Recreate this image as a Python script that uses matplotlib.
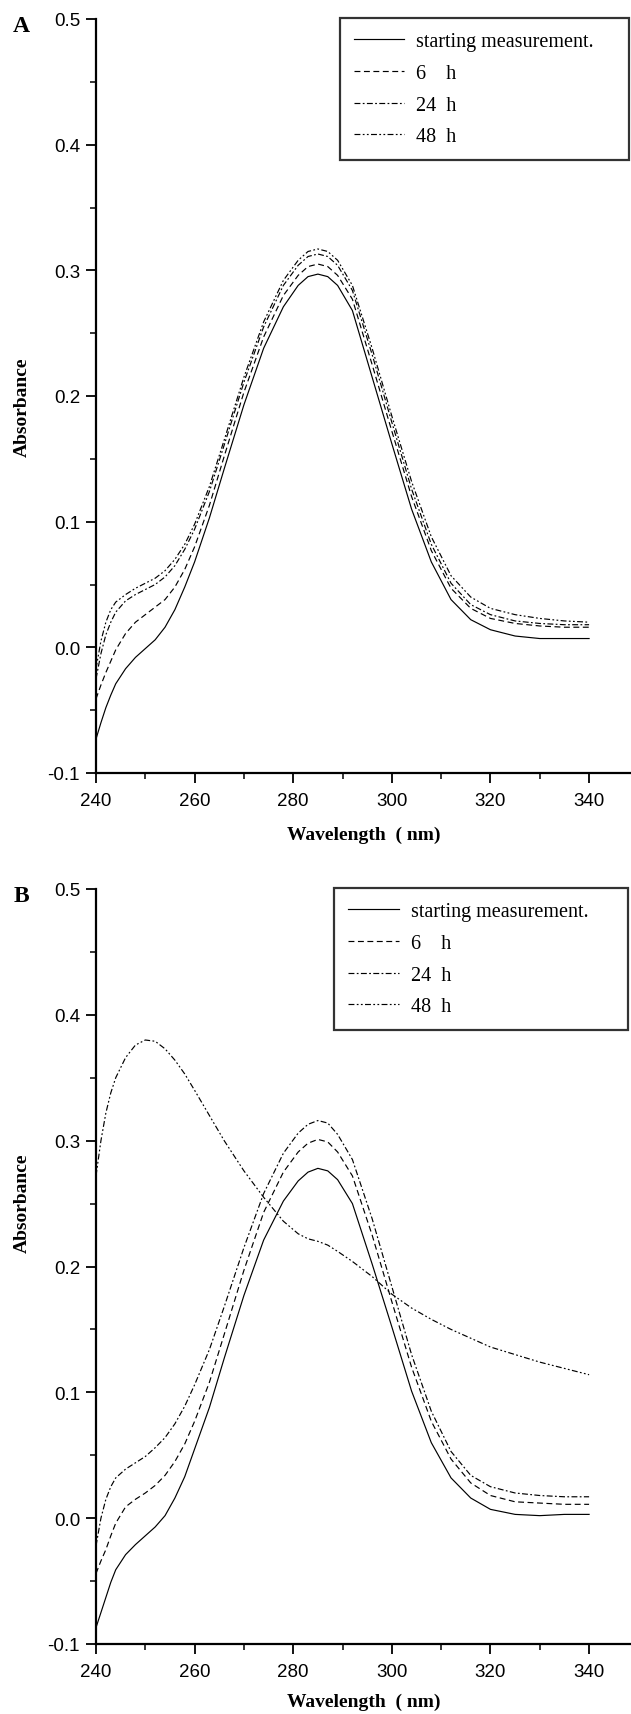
import matplotlib
matplotlib.use('Agg')
import matplotlib.pyplot as plt
from matplotlib.ticker import MultipleLocator, FormatStrFormatter
import numpy as np

plt.rcParams['axes.unicode_minus'] = False

# wavelength grid (nm)
wl = [240, 241, 242, 243, 244, 246, 248, 250, 252, 254, 256, 258, 260, 263, 266,
      270, 274, 278, 281, 283, 285, 287, 289, 292, 296, 300, 304, 308, 312, 316,
      320, 325, 330, 335, 340]

# panel A
a_start = [-0.073, -0.060, -0.048, -0.038, -0.029, -0.017, -0.008, -0.001, 0.006, 0.016,
           0.030, 0.048, 0.068, 0.103, 0.142, 0.193, 0.238, 0.271, 0.288, 0.295,
           0.297, 0.295, 0.288, 0.268, 0.215, 0.162, 0.110, 0.068, 0.038, 0.022,
           0.014, 0.009, 0.007, 0.007, 0.007]
a_6h = [-0.041, -0.030, -0.020, -0.011, -0.002, 0.011, 0.020, 0.026, 0.032, 0.038,
        0.048, 0.062, 0.080, 0.113, 0.152, 0.203, 0.247, 0.280, 0.296, 0.303,
        0.305, 0.303, 0.296, 0.277, 0.225, 0.172, 0.120, 0.077, 0.047, 0.031,
        0.023, 0.019, 0.017, 0.016, 0.016]
a_24h = [-0.025, -0.005, 0.010, 0.020, 0.028, 0.037, 0.042, 0.046, 0.050, 0.056,
         0.065, 0.078, 0.094, 0.124, 0.161, 0.211, 0.255, 0.288, 0.304, 0.311,
         0.313, 0.311, 0.304, 0.284, 0.233, 0.179, 0.126, 0.082, 0.051, 0.034,
         0.026, 0.021, 0.019, 0.018, 0.018]
a_48h = [-0.017, 0.005, 0.020, 0.030, 0.036, 0.042, 0.047, 0.051, 0.055, 0.061,
         0.070, 0.082, 0.098, 0.128, 0.165, 0.215, 0.259, 0.292, 0.308, 0.315,
         0.317, 0.315, 0.308, 0.288, 0.238, 0.184, 0.132, 0.088, 0.057, 0.040,
         0.031, 0.026, 0.023, 0.021, 0.020]

# panel B
b_start = [-0.087, -0.075, -0.063, -0.051, -0.041, -0.029, -0.021, -0.014, -0.007, 0.002,
           0.016, 0.033, 0.055, 0.088, 0.127, 0.177, 0.221, 0.252, 0.268, 0.275,
           0.278, 0.276, 0.269, 0.250, 0.202, 0.152, 0.101, 0.060, 0.032, 0.016,
           0.007, 0.003, 0.002, 0.003, 0.003]
b_6h = [-0.044, -0.034, -0.025, -0.014, -0.004, 0.009, 0.015, 0.020, 0.026, 0.034,
        0.045, 0.059, 0.077, 0.108, 0.146, 0.197, 0.243, 0.275, 0.291, 0.298,
        0.301, 0.299, 0.291, 0.272, 0.225, 0.172, 0.120, 0.077, 0.047, 0.028,
        0.018, 0.013, 0.012, 0.011, 0.011]
b_24h = [-0.022, 0.000, 0.015, 0.025, 0.032, 0.039, 0.044, 0.049, 0.056, 0.064,
         0.075, 0.089, 0.106, 0.134, 0.168, 0.215, 0.258, 0.290, 0.306, 0.313,
         0.316, 0.314, 0.305, 0.285, 0.238, 0.184, 0.130, 0.085, 0.053, 0.034,
         0.025, 0.020, 0.018, 0.017, 0.017]
b_48h = [0.272, 0.300, 0.322, 0.338, 0.350, 0.366, 0.376, 0.380, 0.379, 0.373,
         0.364, 0.353, 0.340, 0.320, 0.300, 0.276, 0.255, 0.236, 0.226, 0.222,
         0.220, 0.217, 0.212, 0.204, 0.192, 0.178, 0.167, 0.158, 0.150, 0.143,
         0.136, 0.130, 0.124, 0.119, 0.114]

labels = ['starting measurement.', '6    h', '24  h', '48  h']
styles = ['-', (0, (5, 3)), (0, (5, 2, 1.5, 2)), (0, (5, 2, 1.5, 2, 1.5, 2))]

W, H = 631, 1715
fig = plt.figure(figsize=(W / 100, H / 100), dpi=100)

serif = 'Liberation Serif'
sans = 'Liberation Sans'


def panel(top_px, bottom_px, series, letter, leg_box, ylab_y, xlab_y):
    ax = fig.add_axes([96 / W, 1 - bottom_px / H, 1 - 96 / W, (bottom_px - top_px) / H])
    for ys, ls, lab in zip(series, styles, labels):
        ax.plot(wl, ys, color='black', lw=0.85, linestyle=ls, label=lab)
    ax.set_xlim(240, 348.5)
    ax.set_ylim(-0.1, 0.5)
    ax.xaxis.set_major_locator(MultipleLocator(20))
    ax.xaxis.set_minor_locator(MultipleLocator(10))
    ax.yaxis.set_major_locator(MultipleLocator(0.1))
    ax.yaxis.set_minor_locator(MultipleLocator(0.05))
    ax.yaxis.set_major_formatter(FormatStrFormatter('%.1f'))
    for s in ['top', 'right']:
        ax.spines[s].set_visible(False)
    for s in ['left', 'bottom']:
        ax.spines[s].set_linewidth(1.6)
    ax.tick_params(which='major', direction='out', length=7.5, width=1.3)
    ax.tick_params(which='minor', direction='out', length=4, width=1.1)
    ax.tick_params(axis='y', pad=4)
    ax.tick_params(axis='x', pad=6)
    for t in ax.get_xticklabels() + ax.get_yticklabels():
        t.set_fontfamily(sans)
        t.set_fontsize(13.5)
    ax.set_xlabel('Wavelength  ( nm)', fontfamily=serif, fontweight='bold',
                  fontsize=14, va='center')
    ax.xaxis.set_label_coords(0.5, xlab_y)
    ax.set_ylabel('Absorbance', fontfamily=serif, fontweight='bold',
                  fontsize=14, va='center')
    ax.yaxis.set_label_coords(-0.137, ylab_y)
    leg = ax.legend(loc='upper left', bbox_to_anchor=leg_box, mode='expand',
                    borderaxespad=0, frameon=True, fancybox=False,
                    prop={'family': serif, 'size': 14.5}, handlelength=2.5,
                    handletextpad=0.6, borderpad=0.7, labelspacing=0.62)
    leg.get_frame().set_edgecolor('black')
    leg.get_frame().set_linewidth(1.6)
    fig.text(21 / W, 1 - (top_px + 6) / H, letter, fontfamily=serif,
             fontweight='bold', fontsize=17, ha='center', va='center')
    return ax


panel(20, 774, [a_start, a_6h, a_24h, a_48h], 'A', (0.456, 0.5, 0.54, 0.501), 0.487, -0.081)
panel(890, 1645, [b_start, b_6h, b_24h, b_48h], 'B', (0.445, 0.5, 0.549, 0.501), 0.585, -0.076)

fig.savefig('out.png', dpi=100)
